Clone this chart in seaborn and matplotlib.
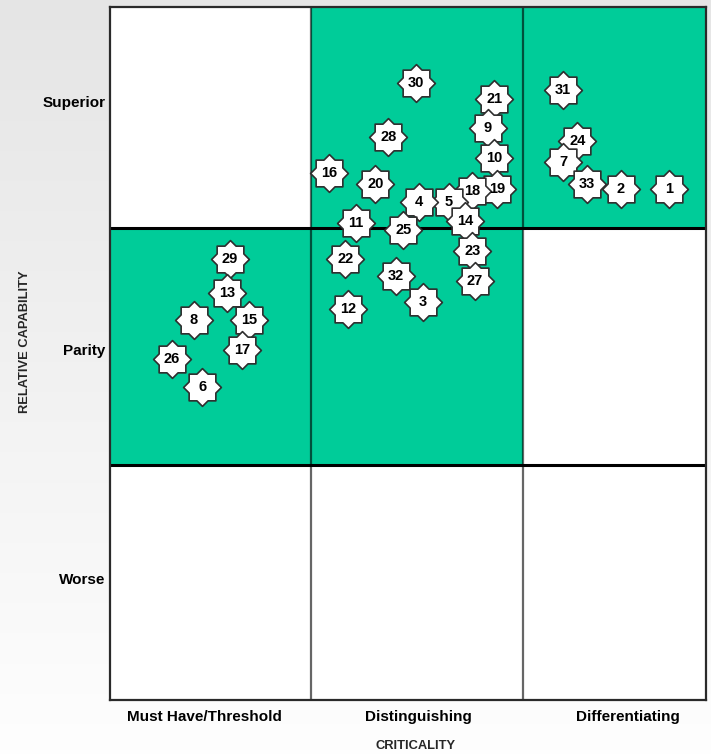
import numpy as np
import pandas as pd
import matplotlib
matplotlib.use("Agg")
import matplotlib.pyplot as plt
from matplotlib.path import Path
from matplotlib.patches import Rectangle
import seaborn as sns

# ---- data -------------------------------------------------------------
item_ids = [1, 2, 3, 4, 5, 6, 7, 8, 9, 10, 11, 12, 13, 14, 15, 16, 17,
            18, 19, 20, 21, 22, 23, 24, 25, 26, 27, 28, 29, 30, 31, 32, 33]
criticality = [93.8, 85.7, 52.5, 51.8, 56.9, 15.5, 76.0, 14.1, 63.4, 64.5,
               41.3, 40.0, 19.6, 59.6, 23.4, 36.8, 22.2, 60.7, 64.9, 44.5,
               64.5, 39.5, 60.8, 78.4, 49.2, 10.4, 61.2, 46.7, 20.1, 51.3,
               76.0, 48.0, 80.0]
capability = [73.8, 73.8, 57.5, 71.8, 71.8, 45.1, 77.7, 54.8, 82.5, 78.2,
              68.9, 56.4, 58.7, 69.1, 54.8, 76.1, 50.5, 73.5, 73.7, 74.5,
              86.7, 63.6, 64.8, 80.6, 67.8, 49.2, 60.4, 81.3, 63.6, 89.0,
              88.0, 61.2, 74.5]

# grid of categories (unequal band widths)
x_edges = [0, 33.7, 69.3, 100]
y_edges = [0, 33.9, 68.1, 100]
x_labels = ["Must Have/Threshold", "Distinguishing", "Differentiating"]
x_label_pos = [15.8, 51.7, 86.9]
y_labels = ["Worse", "Parity", "Superior"]
y_label_pos = [17.6, 50.6, 86.3]
# highlighted cells: rows bottom->top, columns left->right
highlight = [[0, 0, 0],
             [1, 1, 0],
             [0, 1, 1]]

GREEN = "#00CC99"
df = pd.DataFrame({"id": item_ids, "x": criticality, "y": capability})
df = df.sort_values("y", ascending=False)

# ---- figure -----------------------------------------------------------
sns.set_theme(style="white")
plt.rcParams["font.family"] = ["Liberation Sans", "DejaVu Sans"]

W, H = 711, 754
fig = plt.figure(figsize=(W / 100, H / 100), dpi=100)

# soft grey backdrop, lighter towards the bottom
bg = fig.add_axes([0, 0, 1, 1], zorder=-10)
grad = np.linspace(229, 254, 200)[:, None] / 255.0
bg.imshow(np.dstack([grad, grad, grad]), aspect="auto", extent=[0, 1, 0, 1])
bg.set_axis_off()

left, right, top, bottom = 110, 706, 7, 700
ax = fig.add_axes([left / W, 1 - bottom / H, (right - left) / W, (bottom - top) / H])
ax.set_xlim(0, 100)
ax.set_ylim(0, 100)
ax.set_facecolor("white")

for r in range(3):
    for c in range(3):
        if highlight[r][c]:
            ax.add_patch(Rectangle((x_edges[c], y_edges[r]),
                                   x_edges[c + 1] - x_edges[c],
                                   y_edges[r + 1] - y_edges[r],
                                   facecolor=GREEN, edgecolor="none", zorder=0))

for xe in x_edges[1:-1]:
    ax.axvline(xe, color="black", alpha=0.6, lw=1.6, zorder=1)
for ye in y_edges[1:-1]:
    ax.axhline(ye, color="black", lw=2.2, zorder=1)

for side in ["left", "right", "top", "bottom"]:
    ax.spines[side].set_color("#2a2a2a")
    ax.spines[side].set_linewidth(1.6)
    ax.spines[side].set_visible(True)

# eight-pointed star marker (two overlapping squares)
ang = np.deg2rad(90 + np.arange(16) * 22.5)
rad = np.where(np.arange(16) % 2 == 0, 1.0, 0.765)
verts = np.column_stack([rad * np.cos(ang), rad * np.sin(ang)])
verts = np.vstack([verts, verts[:1]])
codes = [Path.MOVETO] + [Path.LINETO] * 15 + [Path.CLOSEPOLY]
star = Path(verts, codes)

sns.scatterplot(data=df, x="x", y="y", ax=ax, marker=star, s=740,
                color="white", edgecolor="#2e2e2e", linewidth=1.2,
                legend=False, zorder=3)

for _, row in df.iterrows():
    ax.text(row["x"], row["y"], str(int(row["id"])), ha="center", va="center",
            fontsize=10.5, fontweight="bold", color="black", zorder=4)

ax.set_xticks(x_label_pos)
ax.set_xticklabels(x_labels, fontsize=11, fontweight="bold")
ax.set_yticks(y_label_pos)
ax.set_yticklabels(y_labels, fontsize=11, fontweight="bold")
ax.tick_params(axis="both", length=0, colors="black")
ax.tick_params(axis="x", pad=7)
ax.tick_params(axis="y", pad=3)

ax.set_xlabel("CRITICALITY", fontsize=9.3, fontweight="bold")
ax.set_ylabel("RELATIVE CAPABILITY", fontsize=9.3, fontweight="bold")
ax.xaxis.set_label_coords(0.512, -0.066)
ax.xaxis.label.set_verticalalignment("center")
ax.yaxis.set_label_coords(-0.143, 0.517)
ax.yaxis.label.set_verticalalignment("center")

fig.savefig("out.png", dpi=100)
